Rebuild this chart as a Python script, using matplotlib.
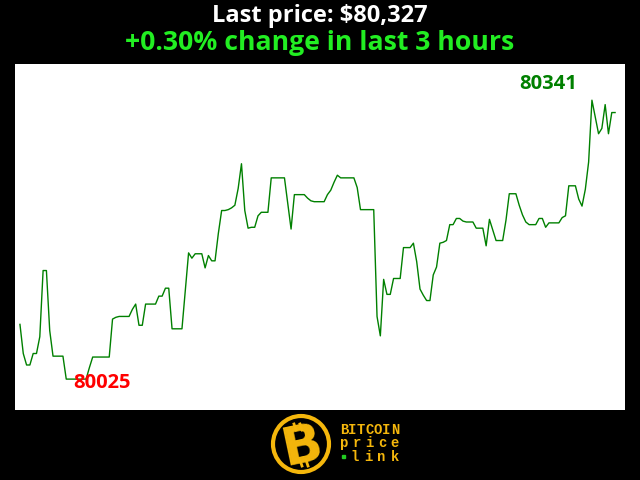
import matplotlib
matplotlib.use("Agg")
import matplotlib.pyplot as plt
from matplotlib.patches import Circle, Rectangle
import numpy as np

# one price per minute over the last 3 hours
prices = [
    80087, 80054, 80041, 80041, 80054, 80054, 80073, 80148, 80148, 80080,
    80051, 80051, 80051, 80051, 80025, 80025, 80025, 80025, 80025, 80025,
    80025, 80038, 80050, 80050, 80050, 80050, 80050, 80050, 80093, 80095,
    80096, 80096, 80096, 80096, 80104, 80110, 80086, 80086, 80110, 80110,
    80110, 80110, 80119, 80119, 80128, 80128, 80082, 80082, 80082, 80082,
    80125, 80168, 80162, 80167, 80167, 80167, 80151, 80165, 80159, 80159,
    80190, 80216, 80216, 80217, 80219, 80222, 80241, 80269, 80216, 80196,
    80197, 80197, 80210, 80214, 80214, 80214, 80253, 80253, 80253, 80253,
    80253, 80224, 80195, 80234, 80234, 80234, 80234, 80230, 80227, 80226,
    80226, 80226, 80226, 80234, 80239, 80248, 80256, 80253, 80253, 80253,
    80253, 80253, 80242, 80217, 80217, 80217, 80217, 80217, 80096, 80074,
    80138, 80121, 80121, 80139, 80139, 80139, 80174, 80174, 80174, 80179,
    80158, 80127, 80120, 80114, 80114, 80143, 80152, 80179, 80180, 80182,
    80200, 80200, 80207, 80207, 80204, 80203, 80203, 80203, 80196, 80196,
    80196, 80176, 80206, 80194, 80182, 80182, 80182, 80205, 80235, 80235,
    80235, 80222, 80211, 80203, 80200, 80200, 80200, 80207, 80207, 80197,
    80202, 80202, 80202, 80202, 80208, 80210, 80244, 80244, 80244, 80229,
    80221, 80240, 80271, 80341, 80322, 80303, 80309, 80336, 80303, 80327,
    80327,
]
minutes = np.arange(len(prices))
hours = 3

last_price = prices[-1]
change_pct = (prices[-1] - prices[0]) / prices[0] * 100
imax = int(np.argmax(prices))
imin = int(np.argmin(prices))

fig = plt.figure(figsize=(6.4, 4.8), dpi=100, facecolor='black')

ax = fig.add_axes([15/640, 70/480, 610/640, 346/480])
ax.set_facecolor('white')
ax.plot(minutes, prices, color='#008000', lw=1)
ax.set_xlim(-1.5, 183)
ax.set_ylim(79990, 80382)
ax.set_xticks([])
ax.set_yticks([])
for s in ax.spines.values():
    s.set_visible(False)

ax.annotate(str(prices[imax]), (imax, prices[imax]), xytext=(-44, 16),
            textcoords='offset pixels', ha='center', va='center',
            color='#008000', fontsize=14.5, fontweight='bold', family='Open Sans')
ax.annotate(str(prices[imin]), (imin, prices[imin]), xytext=(36, -4),
            textcoords='offset pixels', ha='center', va='center',
            color='#ff0000', fontsize=14.5, fontweight='bold', family='Open Sans')

fig.text(0.5, 1 - 16/480, f"Last price: ${last_price:,}", ha='center', va='center',
         color='white', fontsize=17, fontweight='bold', family='Open Sans')
fig.text(0.5, 1 - 43/480, f"+{change_pct:.2f}% change in last {hours} hours",
         ha='center', va='center', color='#22ee22', fontsize=19.2,
         fontweight='bold', family='Open Sans')

# logo, drawn in pixel coordinates
lg = fig.add_axes([0, 0, 1, 70/480])
lg.set_xlim(0, 640)
lg.set_ylim(480, 410)
lg.axis('off')
gold = '#f5b70c'
lg.add_patch(Circle((301, 444), 28, fill=False, edgecolor=gold, lw=3))
lg.text(302, 446, 'B', ha='center', va='center', color=gold, fontsize=38,
        fontweight='heavy', rotation=12, family='DejaVu Sans')
for dx in (-3, 3):
    lg.plot([297 + dx, 299 + dx], [424, 430], color=gold, lw=2)
    lg.plot([303 + dx, 305 + dx], [460, 466], color=gold, lw=2)

for row, (word, y) in enumerate([('BITCOIN', 430), ('price', 443), ('link', 457)]):
    x0, x1 = (344, 395) if row < 2 else (355, 395)
    xs = np.linspace(x0, x1, len(word))
    for ch, x in zip(word, xs):
        lg.text(x, y, ch, ha='center', va='center', color=gold, fontsize=10,
                fontweight='bold', family='Liberation Mono')
lg.add_patch(Rectangle((342, 455), 3, 3, color='#22cc22'))

fig.savefig('out.png', dpi=100, facecolor='black')
